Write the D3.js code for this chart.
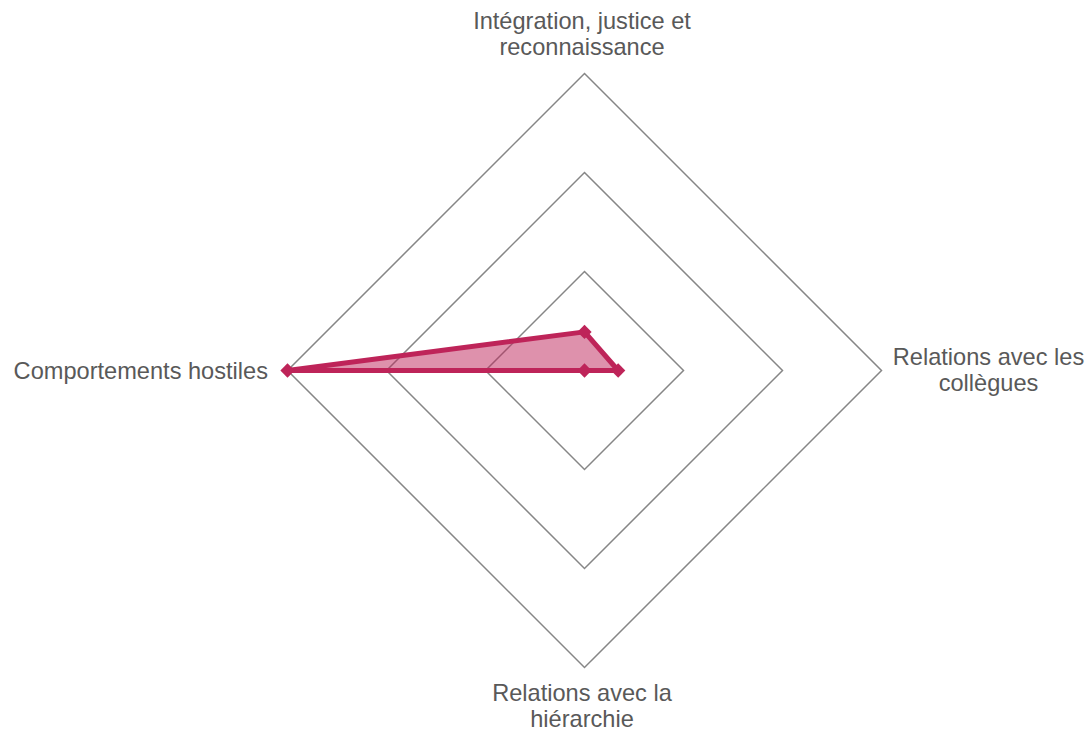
<!DOCTYPE html>
<html>
<head>
<meta charset="utf-8">
<script src="https://cdn.jsdelivr.net/npm/d3@7"></script>
<style>
  body { margin: 0; background: #fff; }
  text { font-family: "Liberation Sans", Arial, sans-serif; fill: #595959; }
</style>
</head>
<body>
<svg id="radar"></svg>
<script>
const axes = [
  ["Intégration, justice et", "reconnaissance"],
  ["Relations avec les", "collègues"],
  ["Relations avec la", "hiérarchie"],
  ["Comportements hostiles"]
];
const values = [0.39, 0.34, 0, 3];
const ticks = [1, 2, 3];

const width = 1092;
const height = 729;
const cx = 584.5, cy = 370.5;
const radius = 297;

const svg = d3.select("#radar")
  .attr("width", width)
  .attr("height", height);

const g = svg.append("g")
  .attr("transform", `translate(${cx}, ${cy})`);

const r = d3.scaleLinear().domain([0, 3]).range([0, radius]);
const angle = d3.scaleLinear().domain([0, axes.length]).range([0, 2 * Math.PI]);

const line = d3.lineRadial()
  .angle((d, i) => angle(i))
  .radius(d => r(d))
  .curve(d3.curveLinearClosed);

// grid
g.selectAll(".ring")
  .data(ticks)
  .enter()
  .append("path")
  .attr("class", "ring")
  .attr("d", t => line(axes.map(() => t)))
  .attr("fill", "none")
  .attr("stroke", "#868686")
  .attr("stroke-width", 1.5);

// series
g.append("path")
  .attr("d", line(values))
  .attr("fill", "rgba(190, 36, 90, 0.5)")
  .attr("stroke", "#BE2459")
  .attr("stroke-width", 5)
  .attr("stroke-linejoin", "round");

const pt = (v, i) => [Math.sin(angle(i)) * r(v), -Math.cos(angle(i)) * r(v)];

g.selectAll(".marker")
  .data(values)
  .enter()
  .append("path")
  .attr("class", "marker")
  .attr("transform", (d, i) => `translate(${pt(d, i)})`)
  .attr("d", d3.symbol(d3.symbolDiamond2, 130))
  .attr("fill", "#BE2459");

// labels
const labelPos = [
  { x: -2.5, y: -341.5, anchor: "middle" },
  { x: 404, y: -5.5, anchor: "middle" },
  { x: -2.5, y: 330, anchor: "middle" },
  { x: -316.5, y: 8.5, anchor: "end" }
];

const labels = g.selectAll(".label")
  .data(axes)
  .enter()
  .append("text")
  .attr("class", "label")
  .attr("text-anchor", (d, i) => labelPos[i].anchor)
  .attr("transform", (d, i) => `translate(${labelPos[i].x}, ${labelPos[i].y})`)
  .style("font-size", "23.6px");

labels.selectAll("tspan")
  .data(d => d)
  .enter()
  .append("tspan")
  .attr("x", 0)
  .attr("dy", (d, i) => i === 0 ? 0 : 26)
  .text(d => d);
</script>
</body>
</html>
